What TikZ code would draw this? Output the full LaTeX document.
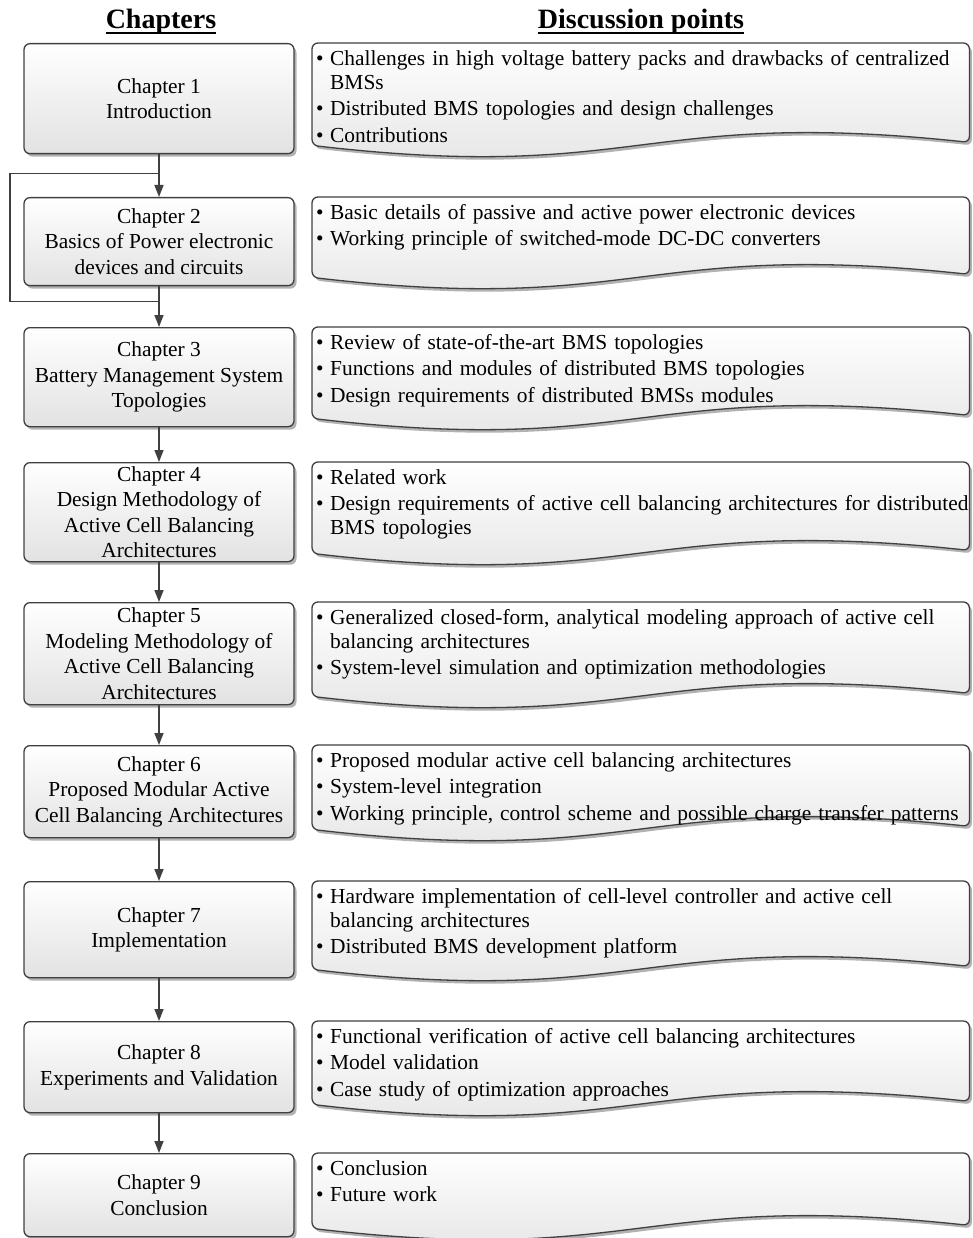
\documentclass[tikz,border=0pt]{standalone}
\usepackage{fontspec}
\setmainfont{Liberation Serif}
\usepackage{xcolor}
\usetikzlibrary{arrows.meta,calc,positioning,shadows}
\definecolor{BoxLine}{HTML}{404040}
\definecolor{BoxShade}{HTML}{E2E2E2}

% one bullet of a discussion list
\newcommand{\bpoint}[1]{\noindent\hangindent=14pt\hangafter=1%
  \makebox[14pt][l]{\textbullet}#1\par}

% wavy document outline round an empty area node
\newcommand{\wavedoc}[1]{%
  \path[docshape] (#1.north west) -- (#1.north east)
    -- ([yshift=3pt]#1.south east)
    .. controls ([yshift=38pt]#1.south) and ([yshift=-38pt]#1.south) ..
    (#1.south west) -- cycle;}

\tikzset{
  chapbox/.style={draw=BoxLine, line width=1.3pt, rounded corners=6pt,
    top color=white, bottom color=BoxShade, minimum width=270pt,
    align=center, anchor=north, inner sep=0pt,
    font=\fontsize{21.4}{25.5}\selectfont,
    drop shadow={shadow xshift=2.5pt, shadow yshift=-3pt, fill=black, opacity=0.3}},
  docarea/.style={minimum width=657pt, anchor=north west, inner sep=0pt},
  docshape/.style={draw=BoxLine, line width=1.3pt, rounded corners=6pt,
    top color=white, bottom color=BoxShade,
    drop shadow={shadow xshift=2.5pt, shadow yshift=-3pt, fill=black, opacity=0.3}},
  doctext/.style={text width=662pt, align=left, inner sep=0pt,
    font=\fontsize{21.4}{24}\selectfont\setlength{\parskip}{2.5pt}},
  headline/.style={anchor=base, inner sep=0pt, font=\fontsize{28}{30}\selectfont\bfseries},
  flow/.style={draw=BoxLine, line width=1.5pt, -{Triangle[length=12pt,width=9pt]}},
  loopline/.style={draw=BoxLine, line width=1.3pt},
}

\begin{document}
\begin{tikzpicture}[x=1pt, y=-1pt]
  \useasboundingbox (0,0) rectangle (973,1238);

  % headers
  \node[headline] (hc) at (161,29) {Chapters};
  \node[headline] (hd) at (641,29) {Discussion points};
  \draw[line width=1.8pt] ([yshift=-4pt]hc.base west) -- ([yshift=-4pt]hc.base east);
  \draw[line width=1.8pt] ([yshift=-4pt]hd.base west) -- ([yshift=-4pt]hd.base east);

  % chapters
  \node[chapbox, minimum height=110pt] (c1) at (159,43) {Chapter 1\\Introduction};
  \node[chapbox, minimum height=88pt] (c2) at (159,197)
    {Chapter 2\\Basics of Power electronic\\devices and circuits};
  \node[chapbox, minimum height=99pt] (c3) at (159,327)
    {Chapter 3\\Battery Management System\\Topologies};
  \node[chapbox, minimum height=99pt] (c4) at (159,462)
    {Chapter 4\\Design Methodology of\\Active Cell Balancing\\Architectures};
  \node[chapbox, minimum height=102pt] (c5) at (159,602)
    {Chapter 5\\Modeling Methodology of\\Active Cell Balancing\\Architectures};
  \node[chapbox, minimum height=92pt] (c6) at (159,745)
    {Chapter 6\\Proposed Modular Active\\Cell Balancing Architectures};
  \node[chapbox, minimum height=96pt] (c7) at (159,881) {Chapter 7\\Implementation};
  \node[chapbox, minimum height=91pt] (c8) at (159,1021)
    {Chapter 8\\Experiments and Validation};
  \node[chapbox, minimum height=83pt] (c9) at (159,1153) {Chapter 9\\Conclusion};

  % discussion points
  \node[docarea, minimum height=102pt] (d1) at (312,43) {};
  \wavedoc{d1}
  \node[doctext, below right=7pt and 4pt of d1.north west] (t1) {%
    \bpoint{Challenges in high voltage battery packs and drawbacks of centralized\newline BMSs}
    \bpoint{Distributed BMS topologies and design challenges}
    \bpoint{Contributions}};

  \node[docarea, minimum height=80pt] (d2) at (312,197) {};
  \wavedoc{d2}
  \node[doctext, below right=7pt and 4pt of d2.north west] (t2) {%
    \bpoint{Basic details of passive and active power electronic devices}
    \bpoint{Working principle of switched-mode DC-DC converters}};

  \node[docarea, minimum height=91pt] (d3) at (312,327) {};
  \wavedoc{d3}
  \node[doctext, below right=7pt and 4pt of d3.north west] (t3) {%
    \bpoint{Review of state-of-the-art BMS topologies}
    \bpoint{Functions and modules of distributed BMS topologies}
    \bpoint{Design requirements of distributed BMSs modules}};

  \node[docarea, minimum height=91pt] (d4) at (312,462) {};
  \wavedoc{d4}
  \node[doctext, below right=7pt and 4pt of d4.north west] (t4) {%
    \bpoint{Related work}
    \bpoint{Design requirements of active cell balancing architectures for distributed\newline BMS topologies}};

  \node[docarea, minimum height=94pt] (d5) at (312,602) {};
  \wavedoc{d5}
  \node[doctext, below right=7pt and 4pt of d5.north west] (t5) {%
    \bpoint{Generalized closed-form, analytical modeling approach of active cell\newline balancing architectures}
    \bpoint{System-level simulation and optimization methodologies}};

  \node[docarea, minimum height=84pt] (d6) at (312,745) {};
  \wavedoc{d6}
  \node[doctext, below right=7pt and 4pt of d6.north west] (t6) {%
    \bpoint{Proposed modular active cell balancing architectures}
    \bpoint{System-level integration}
    \bpoint{Working principle, control scheme and possible charge transfer patterns}};

  \node[docarea, minimum height=88pt] (d7) at (312,881) {};
  \wavedoc{d7}
  \node[doctext, below right=7pt and 4pt of d7.north west] (t7) {%
    \bpoint{Hardware implementation of cell-level controller and active cell\newline balancing architectures}
    \bpoint{Distributed BMS development platform}};

  \node[docarea, minimum height=83pt] (d8) at (312,1021) {};
  \wavedoc{d8}
  \node[doctext, below right=7pt and 4pt of d8.north west] (t8) {%
    \bpoint{Functional verification of active cell balancing architectures}
    \bpoint{Model validation}
    \bpoint{Case study of optimization approaches}};

  \node[docarea, minimum height=75pt] (d9) at (312,1153) {};
  \wavedoc{d9}
  \node[doctext, below right=7pt and 4pt of d9.north west] (t9) {%
    \bpoint{Conclusion}
    \bpoint{Future work}};

  % flow between chapters
  \draw[flow] (c1.south) -- (c2.north);
  \draw[flow] (c2.south) -- (c3.north);
  \draw[flow] (c3.south) -- (c4.north);
  \draw[flow] (c4.south) -- (c5.north);
  \draw[flow] (c5.south) -- (c6.north);
  \draw[flow] (c6.south) -- (c7.north);
  \draw[flow] (c7.south) -- (c8.north);
  \draw[flow] (c8.south) -- (c9.north);

  % bypass round chapter 2
  \coordinate (j1) at ([yshift=-19pt]c1.south);
  \coordinate (j2) at ([yshift=-15pt]c2.south);
  \draw[loopline] (j1) -- ++(-149,0) |- (j2);
\end{tikzpicture}
\end{document}
